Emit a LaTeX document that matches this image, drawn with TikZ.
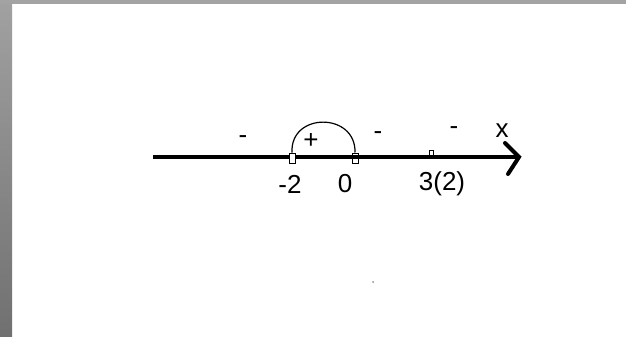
\documentclass[tikz,border=0pt]{standalone}
\usepackage{fontspec}
\setmainfont{Liberation Sans}

\newcommand*{\axisy}{157}
\newcommand*{\axisl}{153}
\newcommand*{\axisr}{519}

\begin{document}
\begin{tikzpicture}
[
	x=1pt,y=-1pt,
	openpt/.style={rectangle,draw,inner sep=0pt,minimum width=6pt,minimum height=10pt,line width=1pt},
	smallpt/.style={rectangle,draw,inner sep=0pt,minimum width=4pt,minimum height=5pt,line width=0.9pt,fill=white},
	sign/.style={inner sep=0pt,font=\fontsize{26}{30}\selectfont},
	tick/.style={inner sep=0pt,font=\fontsize{26}{30}\selectfont}
]

	% frame
	\useasboundingbox (0,0) rectangle (626,337);
	\fill[white] (0,0) rectangle (626,337);
	\fill[black!36] (0,0) rectangle (626,4);
	\shade[top color=black!37,bottom color=black!56] (0,4) rectangle (12,337);

	% axes
	\coordinate (start) at (\axisl,\axisy);
	\coordinate (tip) at (\axisr,\axisy);
	\coordinate (up) at (505,143);
	\coordinate (down) at (508,174);
	\draw[line width=4pt] (start) -- (tip);
	\draw[line width=4pt,line cap=round,line join=miter] (up) -- (tip) -- (down);
	\node[sign] (xlab) at (502,131) {x};

	% roots
	\node[openpt,fill=white] (m2) at (292,158) {};
	\node[openpt] (z0) at (355,158) {};
	\node[smallpt] (t3) at (431,153) {};
	\draw[line width=1.2pt] (m2.north) .. controls (290,112) and (356,112) .. (z0.north);

	\node[tick] (lm2) at (290,184) {-2};
	\node[tick] (lz0) at (345,184) {0};
	\node[tick] (lt3) at (442,184) {3(2)};

	% signs
	\node[sign] (s1) at (243,140) {-};
	\node[sign] (s2) at (311,141) {+};
	\node[sign] (s3) at (378,136) {-};
	\node[sign] (s4) at (454,131) {-};

	\fill[black!45] (373,282) circle (1pt);

\end{tikzpicture}
\end{document}
